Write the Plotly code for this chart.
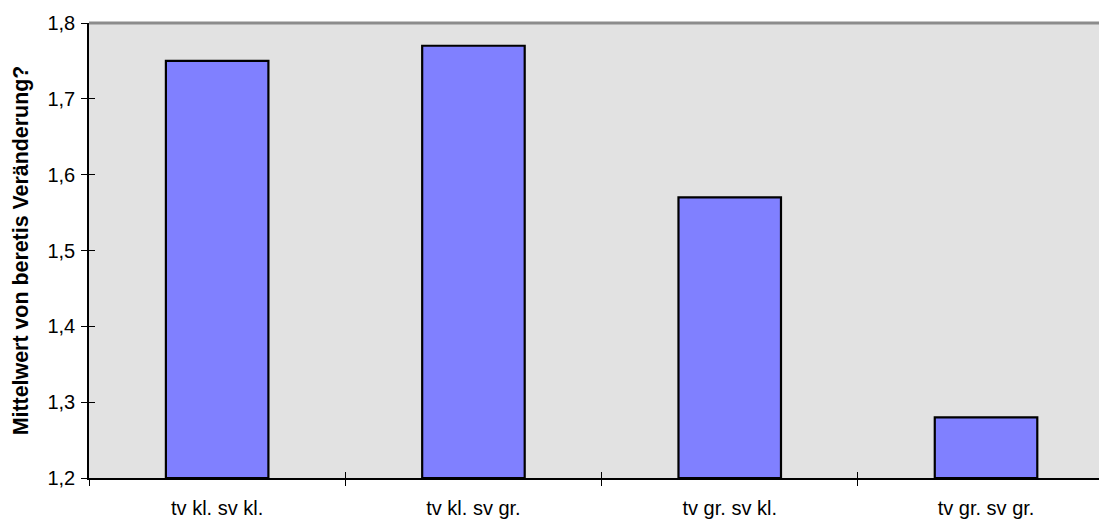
import plotly.graph_objects as go

categories = ["tv kl. sv kl.", "tv kl. sv gr.", "tv gr. sv kl.", "tv gr. sv gr."]
values = [1.75, 1.77, 1.57, 1.28]
y_title = "Mittelwert von beretis Veränderung?"
y_min, y_max = 1.2, 1.8

FONT = "Liberation Sans, Arial, sans-serif"

fig = go.Figure()
fig.add_trace(go.Bar(
    x=categories, y=[v - y_min for v in values], base=y_min, width=0.4,
    marker=dict(color="#8080FF", line=dict(color="#000000", width=2.2)),
    hoverinfo="x+y",
))

# The page body adds an 8px offset; size the figure so it ends at the window edge.
fig.update_layout(
    width=1099, height=511,
    margin=dict(l=81, r=0, t=15, b=41),
    paper_bgcolor="white", plot_bgcolor="#E2E2E2",
    separators=",.",
    showlegend=False,
    font=dict(family=FONT, color="#000000", size=20),
    xaxis=dict(
        type="category", range=[-0.5, 3.472],
        showline=True, linecolor="#000000", linewidth=1.5,
        ticks="outside", ticklen=6, tickcolor="#000000", tickwidth=1,
        tickson="boundaries", showgrid=False, zeroline=False,
        tickfont=dict(size=20, family=FONT), ticklabelstandoff=11,
    ),
    yaxis=dict(
        range=[y_min, y_max], dtick=0.1, tick0=y_min, tickformat=".1f",
        showline=True, linecolor="#000000", linewidth=1.5,
        ticks="outside", ticklen=6, tickcolor="#000000", tickwidth=1,
        showgrid=False, zeroline=False,
        tickfont=dict(size=20, family=FONT), ticklabelstandoff=2,
        title=dict(text="<b>" + y_title + "</b>", font=dict(size=21.4, family=FONT), standoff=13),
    ),
    xaxis2=dict(
        overlaying="x", anchor="y", range=[-0.5, 3.472],
        tickvals=[0.5, 1.5, 2.5], ticks="inside", ticklen=6,
        tickcolor="#000000", tickwidth=1, showticklabels=False,
        showgrid=False, zeroline=False, showline=False,
    ),
    yaxis2=dict(
        overlaying="y", anchor="x", side="left", range=[y_min, y_max],
        dtick=0.1, tick0=y_min, ticks="inside", ticklen=6,
        tickcolor="#000000", tickwidth=1, showticklabels=False,
        showgrid=False, zeroline=False, showline=False,
    ),
    shapes=[dict(type="line", xref="paper", yref="paper", x0=0, x1=1, y0=1, y1=1,
                 line=dict(color="#8C8C8C", width=3))],
)
fig.add_trace(go.Scatter(x=[None], y=[None], xaxis="x2", yaxis="y2",
                         showlegend=False, hoverinfo="skip"))

fig.write_html("out.html")
